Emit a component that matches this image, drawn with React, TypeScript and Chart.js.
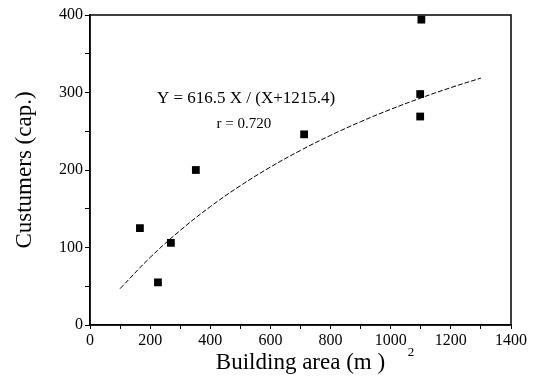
import React, { useEffect, useRef } from "react";
import { Chart, registerables } from "chart.js";

Chart.register(...registerables);

const areaX = [166, 226, 269, 352, 712, 1102, 1098, 1098];
const customers = [125, 55, 106, 200, 246, 394, 298, 269];

const fitX = [100, 200, 300, 400, 500, 600, 700, 800, 900, 1000, 1100, 1200, 1300];
const fitY = [46.9, 87.1, 122.0, 152.7, 179.7, 203.8, 225.3, 244.7, 262.3, 278.3, 292.9, 306.3, 318.6];

const xTickLabels = ["0", "200", "400", "600", "800", "1000", "1200", "1400"];
const yTickLabels = ["0", "100", "200", "300", "400"];

const equationText = "Y = 616.5 X / (X+1215.4)";
const rText = "r = 0.720";
const xTitle = "Building area (m )";
const xTitleSup = "2";
const yTitle = "Custumers (cap.)";

const FONT = "'Liberation Serif', 'DejaVu Serif', serif";

export default function App() {
  const ref = useRef<HTMLCanvasElement>(null);
  useEffect(() => {
    const canvas = ref.current!;
    const frame = {
      id: "frame",
      afterDraw(chart: any) {
        const { ctx, chartArea } = chart;
        ctx.save();
        ctx.strokeStyle = "#000";
        ctx.lineWidth = 1.5;
        ctx.strokeRect(chartArea.left, chartArea.top, chartArea.right - chartArea.left, chartArea.bottom - chartArea.top);
        const xs = chart.scales.x;
        const ys = chart.scales.y;
        ctx.fillStyle = "#000";
        ctx.textAlign = "center";
        ctx.textBaseline = "middle";
        ctx.font = "17px " + FONT;
        ctx.fillText(equationText, xs.getPixelForValue(519), ys.getPixelForValue(292));
        ctx.font = "15px " + FONT;
        ctx.fillText(rText, xs.getPixelForValue(512), ys.getPixelForValue(259));
        ctx.font = "13px " + FONT;
        ctx.fillText(xTitleSup, 411, 353);
        ctx.restore();
      },
    };
    const chart = new Chart(canvas, {
      type: "scatter",
      data: {
        datasets: [
          {
            data: areaX.map((x, i) => ({ x, y: customers[i] })),
            pointStyle: "rect",
            pointRadius: 5.5,
            backgroundColor: "#000",
            borderColor: "#000",
            borderWidth: 0,
          },
          {
            type: "line",
            data: fitX.map((x, i) => ({ x, y: fitY[i] })),
            showLine: true,
            borderColor: "#000",
            borderWidth: 1,
            borderDash: [5, 2],
            pointRadius: 0,
            tension: 0.4,
            fill: false,
          } as any,
        ],
      },
      options: {
        animation: false,
        responsive: true,
        maintainAspectRatio: false,
        layout: { padding: { top: 15, right: 32, left: 0, bottom: 0 } },
        plugins: { legend: { display: false }, tooltip: { enabled: false } },
        scales: {
          x: {
            type: "linear",
            min: 0,
            max: 1400,
            afterFit(s: any) { s.height = 384 - 325; },
            ticks: {
              stepSize: 100,
              autoSkip: false,
              maxRotation: 0,
              color: "#000",
              font: { family: FONT, size: 16 },
              padding: 2,
              callback: (v: any) => (Number(v) % 200 === 0 ? xTickLabels[Number(v) / 200] : ""),
            },
            grid: { drawOnChartArea: false, tickLength: 4, color: "#000", lineWidth: 1 },
            border: { color: "#000", width: 1.5 },
            title: {
              display: true,
              text: xTitle,
              color: "#000",
              font: { family: FONT, size: 23 },
              padding: { top: 0, bottom: 7 },
            },
          },
          y: {
            type: "linear",
            min: 0,
            max: 400,
            afterFit(s: any) { s.width = 90; },
            ticks: {
              stepSize: 50,
              autoSkip: false,
              color: "#000",
              font: { family: FONT, size: 16 },
              padding: 2,
              callback: (v: any) => (Number(v) % 100 === 0 ? yTickLabels[Number(v) / 100] : ""),
            },
            grid: { drawOnChartArea: false, tickLength: 5, color: "#000", lineWidth: 1 },
            border: { color: "#000", width: 1.5 },
            title: {
              display: true,
              text: yTitle,
              color: "#000",
              font: { family: FONT, size: 23 },
              padding: { top: 11, bottom: 0 },
            },
          },
        },
      },
      plugins: [frame],
    });
    return () => chart.destroy();
  }, []);
  return (
    <div style={{ position: "fixed", left: 0, top: 0, width: 543, height: 384, background: "#fff" }}>
      <canvas ref={ref} />
    </div>
  );
}
